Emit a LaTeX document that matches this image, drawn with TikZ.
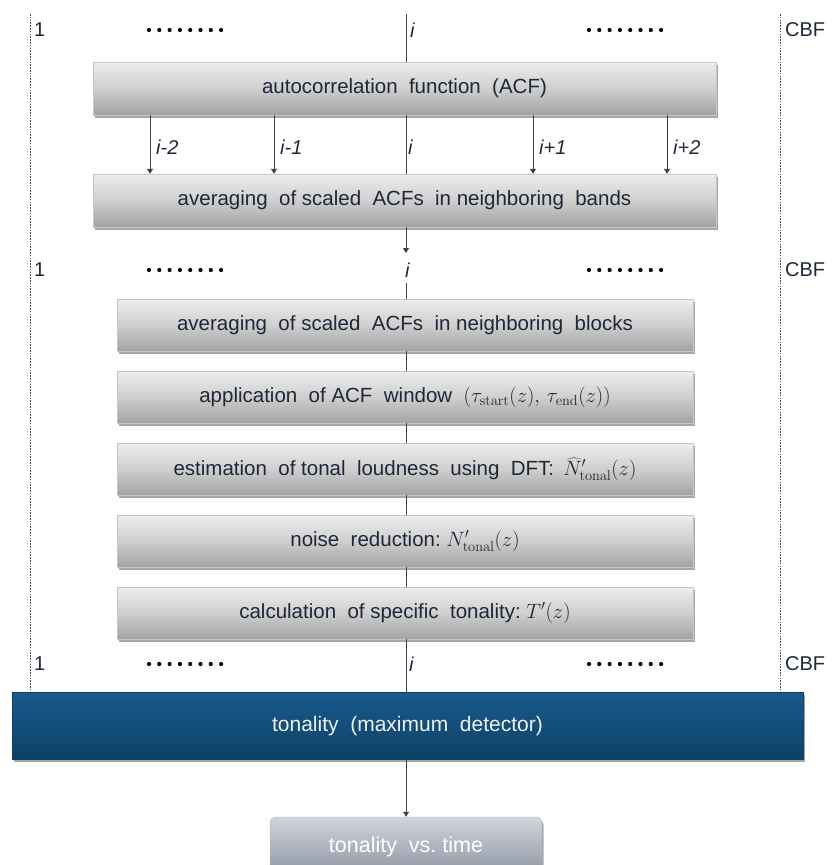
\documentclass[tikz,border=0pt]{standalone}
\usepackage[no-math]{fontspec}
\setmainfont{Liberation Sans}
\usetikzlibrary{shadows,arrows.meta}
\definecolor{txt}{HTML}{1E2838}
\definecolor{lin}{HTML}{3A4150}
\definecolor{dsh}{HTML}{3A4A66}
\definecolor{gtop}{HTML}{EDEDED}
\definecolor{gbot}{HTML}{A2A2A2}
\definecolor{btop}{HTML}{175A8C}
\definecolor{bbot}{HTML}{0E4166}
\definecolor{stop}{HTML}{D0D4DB}
\definecolor{sbot}{HTML}{8C94A2}
\definecolor{wtxt}{HTML}{EEF2F6}
\newcommand{\mymath}[1]{{\fontsize{22.5}{24}\selectfont$#1$}}
\tikzset{
  gbox/.style={rectangle, inner sep=0pt, top color=gtop, bottom color=gbot, middle color=gray!38,
    draw=gray!45, line width=0.4pt, text=txt, font=\fontsize{20.5}{24}\selectfont,
    drop shadow={shadow xshift=1.5pt, shadow yshift=-2.5pt, opacity=0.35, fill=black}},
  bbox/.style={rectangle, inner sep=0pt, top color=btop, bottom color=bbot,
    draw=bbot, line width=0.4pt, text=wtxt, font=\fontsize{21}{24}\selectfont,
    drop shadow={shadow xshift=1.5pt, shadow yshift=-2.5pt, opacity=0.35, fill=black}},
  sbox/.style={rectangle, rounded corners=6pt, inner sep=0pt, top color=stop, bottom color=sbot,
    draw=gray!55, line width=0.4pt, text=white, font=\fontsize{21.5}{24}\selectfont,
    drop shadow={shadow xshift=1.5pt, shadow yshift=-2.5pt, opacity=0.35, fill=black}},
  lbl/.style={inner sep=0pt, text=txt, font=\fontsize{20}{24}\selectfont},
  ilbl/.style={inner sep=0pt, text=txt, font=\fontsize{20}{24}\selectfont\itshape, anchor=west},
  conn/.style={draw=lin, line width=0.8pt},
  arr/.style={draw=lin, line width=0.8pt, -{Triangle[width=6pt,length=5pt]}},
  dashln/.style={draw=dsh, line width=0.6pt, dash pattern=on 1.6pt off 1.2pt},
}
\begin{document}
\begin{tikzpicture}[x=1pt,y=-1pt]
\useasboundingbox (0,0) rectangle (837,865);
% dashed boundary lines
\coordinate (lt) at (30,14); \coordinate (lb) at (30,692);
\coordinate (rt) at (780,14); \coordinate (rb) at (780,692);
\draw[dashln] (lt) -- (lb);
\draw[dashln] (rt) -- (rb);
% row labels
\foreach \y/\n in {30/a,270/b,664/c}{
  \node[lbl, anchor=west] (one\n) at (34,\y) {1};
  \node[lbl, anchor=west] (cbf\n) at (785,\y) {CBF};
  \foreach \k in {0,...,7}{
    \fill[black] (149+\k*10.3,\y) circle (2.1pt);
    \fill[black] (589+\k*10.3,\y) circle (2.1pt);
  }
}
\node[ilbl] (ia) at (410,30) {i};
\node[ilbl] (ib) at (405,270) {i};
\node[ilbl] (ic) at (409,664) {i};
% boxes
\node[gbox, minimum width=623, minimum height=53] (b1) at (404.5,88.5) {autocorrelation\ \ function\ \ (ACF)};
\node[gbox, minimum width=623, minimum height=53] (b2) at (404.5,200.5) {averaging\ \ of scaled\ \ ACFs\ \ in neighboring\ \ bands};
\node[gbox, minimum width=576, minimum height=52] (b3) at (405,325) {averaging\ \ of scaled\ \ ACFs\ \ in neighboring\ \ blocks};
\node[gbox, minimum width=576, minimum height=52] (b4) at (405,397) {application\ \ of ACF\ \ window\ \ \mymath{(\tau_{\mathrm{start}}(z),\,\tau_{\mathrm{end}}(z))}};
\node[gbox, minimum width=576, minimum height=52] (b5) at (405,469) {estimation\ \ of tonal\ \ loudness\ \ using\ \ DFT:\ \,\mymath{\widehat{N}'_{\mathrm{tonal}}(z)}};
\node[gbox, minimum width=576, minimum height=52] (b6) at (405,541) {noise\ \ reduction:\ \mymath{N'_{\mathrm{tonal}}(z)}};
\node[gbox, minimum width=576, minimum height=52] (b7) at (405,613) {calculation\ \ of specific\ \ tonality:\ \mymath{T'(z)}};
\node[bbox, minimum width=791, minimum height=67] (bl) at (407.5,726) {tonality\ \ (maximum\ \ detector)};
\node[sbox, minimum width=272, minimum height=60] (tv) at (406,847) {tonality\ \ vs.\ time};
% centre line
\coordinate (ctop) at (406,14);
\draw[conn] (ctop) -- (ctop |- b1.north);
\draw[conn] (b1.south -| ctop) -- (b2.north -| ctop);
\coordinate (c2) at (406,253);
\draw[arr] (b2.south -| ctop) -- (c2);
\coordinate (c3) at (406,283);
\draw[conn] (c3) -- (b3.north -| ctop);
\draw[conn] (b3.south -| ctop) -- (b4.north -| ctop);
\draw[conn] (b4.south -| ctop) -- (b5.north -| ctop);
\draw[conn] (b5.south -| ctop) -- (b6.north -| ctop);
\draw[conn] (b6.south -| ctop) -- (b7.north -| ctop);
\draw[conn] (b7.south -| ctop) -- (bl.north -| ctop);
\draw[arr] (bl.south -| ctop) -- (tv.north -| ctop);
% band arrows
\foreach \x/\t/\n in {150/i-2/m2,274/i-1/m1,533/i+1/p1,667/i+2/p2}{
  \coordinate (s\n) at (\x,115);
  \draw[arr] (s\n) -- (s\n |- b2.north);
  \node[ilbl] (l\n) at (\x+6,147) {\t};
}
\node[ilbl] (l0) at (408,147) {i};
\end{tikzpicture}
\end{document}
